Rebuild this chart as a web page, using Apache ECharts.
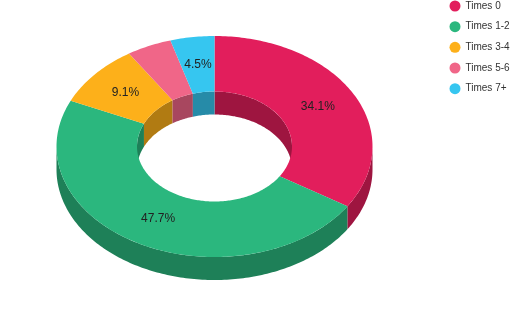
<!DOCTYPE html>
<html><head><meta charset="utf-8">
<script src="https://cdn.jsdelivr.net/npm/echarts@6/dist/echarts.min.js"></script>
<style>html,body{margin:0;padding:0;background:#fff}#c{width:512px;height:317px}</style>
</head><body><div id="c"></div>
<script>
// ---- data ----
const categories = ['Times 0', 'Times 1-2', 'Times 3-4', 'Times 5-6', 'Times 7+'];
const values = [34.1, 47.7, 9.1, 4.6, 4.5];
const colors = ['#e21e5c', '#2bb77e', '#fdb01a', '#f06688', '#36c6f0'];
const labelShown = [true, true, true, false, true];

// ---- geometry of the tilted donut ----
const geo = { cx: 214.5, cy: 146.5, rx: 158, ry: 110.5, rxIn: 77.5, ryIn: 55, depth: 23 };

const total = values.reduce((a, b) => a + b, 0);
const starts = [];
let acc = 0;
values.forEach(v => { starts.push(acc / total * 360); acc += v; });

function pt(rx, ry, deg, dy) {
  const a = deg * Math.PI / 180;
  return [geo.cx + rx * Math.sin(a), geo.cy - ry * Math.cos(a) + (dy || 0)];
}
function arc(rx, ry, a0, a1, dy) {
  const n = Math.max(2, Math.ceil(Math.abs(a1 - a0)));
  const out = [];
  for (let k = 0; k <= n; k++) out.push(pt(rx, ry, a0 + (a1 - a0) * k / n, dy));
  return out;
}
function clip(a0, a1, lo, hi) {
  const s = Math.max(a0, lo), e = Math.min(a1, hi);
  return s < e ? [s, e] : null;
}
function shade(hex, f) {
  const n = parseInt(hex.slice(1), 16);
  const r = Math.round(((n >> 16) & 255) * f), g = Math.round(((n >> 8) & 255) * f), b = Math.round((n & 255) * f);
  return 'rgb(' + r + ',' + g + ',' + b + ')';
}

function renderItem(params, api) {
  const i = params.seriesIndex;
  const val = api.value(0);
  const a0 = starts[i];
  const a1 = a0 + val / total * 360;
  const col = colors[i];
  const dark = shade(col, 0.7);
  const d = geo.depth;
  const children = [];
  // outer front wall
  const fw = clip(a0, a1, 90, 270);
  if (fw) {
    children.push({
      type: 'polygon', z2: 1,
      shape: { points: arc(geo.rx, geo.ry, fw[0], fw[1], 0).concat(arc(geo.rx, geo.ry, fw[1], fw[0], d)) },
      style: { fill: dark }
    });
  }
  // inner back wall (seen through the hole)
  [[0, 90], [270, 360]].forEach(r => {
    const bw = clip(a0, a1, r[0], r[1]);
    if (bw) {
      children.push({
        type: 'polygon', z2: 1,
        shape: { points: arc(geo.rxIn, geo.ryIn, bw[0], bw[1], 0).concat(arc(geo.rxIn, geo.ryIn, bw[1], bw[0], d)) },
        style: { fill: dark }
      });
    }
  });
  // top face
  children.push({
    type: 'polygon', z2: 5,
    shape: { points: arc(geo.rx, geo.ry, a0, a1, 0).concat(arc(geo.rxIn, geo.ryIn, a1, a0, 0)) },
    style: { fill: col }
  });
  // label
  if (labelShown[i]) {
    const mid = (a0 + a1) / 2;
    const rm = (geo.rx + geo.rxIn) / 2, rym = (geo.ry + geo.ryIn) / 2;
    const p = pt(rm, rym, mid, 0);
    children.push({
      type: 'text', z2: 10,
      style: {
        text: (val / total * 100).toFixed(1) + '%',
        x: p[0], y: p[1], align: 'center', verticalAlign: 'middle',
        font: '12px "Liberation Sans", Arial, sans-serif', fill: '#222'
      }
    });
  }
  return { type: 'group', children: children };
}

const chart = echarts.init(document.getElementById('c'), null, { renderer: 'canvas' });
chart.setOption({
  animation: false,
  color: colors,
  legend: {
    orient: 'vertical', left: 449.5, top: 0.5, padding: 0,
    icon: 'circle', itemWidth: 11, itemHeight: 11, itemGap: 9.67, itemTextGap: 6,
    data: categories,
    textStyle: { fontSize: 10, color: '#333', fontFamily: '"Liberation Sans", Arial, sans-serif' }
  },
  series: categories.map((name, i) => ({
    type: 'custom', name: name, coordinateSystem: 'none',
    itemStyle: { color: colors[i] },
    data: [[values[i]]],
    renderItem: renderItem
  }))
});
</script>
</body></html>
